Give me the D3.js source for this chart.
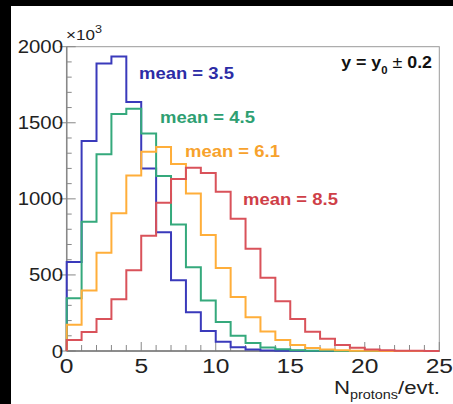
<!DOCTYPE html>
<html>
<head>
<meta charset="utf-8">
<script src="https://cdn.jsdelivr.net/npm/d3@7"></script>
<style>
  body { margin: 0; background: #fff; }
  svg { display: block; font-family: 'Liberation Sans', Arial, Helvetica, sans-serif; }
</style>
</head>
<body>
<div id="chart"></div>
<script>
// proton multiplicity per event, bin width 1, counts in units of 10^3
const nBins = 25
const blue = [585, 1380, 1890, 1935, 1636, 1200, 780, 465, 255, 132, 60, 25, 10, 4, 2, 1, 0, 0, 0, 0, 0, 0, 0, 0, 0]
const green = [347, 849, 1293, 1558, 1592, 1430, 1150, 832, 550, 332, 190, 100, 53, 23, 11, 5, 2, 1, 0, 0, 0, 0, 0, 0, 0]
const orange = [173, 397, 645, 906, 1153, 1310, 1341, 1229, 1035, 762, 545, 355, 222, 128, 72, 40, 20, 10, 5, 2, 1, 0, 0, 0, 0]
const red = [72, 125, 210, 340, 530, 757, 975, 1130, 1204, 1170, 1046, 870, 672, 482, 327, 210, 127, 80, 40, 22, 10, 5, 2, 1, 0]

const series = [
  { name: 'mean = 3.5', values: blue, line: '#3a3abb', text: '#2c2ca6', lx: 139, ly: 79 },
  { name: 'mean = 4.5', values: green, line: '#35a97c', text: '#2e9f72', lx: 160, ly: 123 },
  { name: 'mean = 6.1', values: orange, line: '#ffae3a', text: '#f7a22c', lx: 185, ly: 157 },
  { name: 'mean = 8.5', values: red, line: '#d9525a', text: '#cf3f48', lx: 243, ly: 205 }
]

const yMajor = [0, 500, 1000, 1500, 2000]
const xMajor = [0, 5, 10, 15, 20, 25]

const W = 453
const H = 404
const margin = { top: 46.7, right: 13.7, bottom: 53, left: 66.7 }

const svg = d3.select('#chart')
  .append('svg')
  .attr('width', W)
  .attr('height', H)

// black borders of the original screenshot
svg.append('rect').attr('x', 0).attr('y', 0).attr('width', W).attr('height', 6).attr('fill', '#000')
svg.append('rect').attr('x', 0).attr('y', 0).attr('width', 11).attr('height', H).attr('fill', '#000')

const x = d3.scaleLinear()
  .domain([0, nBins])
  .range([margin.left, W - margin.right])

const y = d3.scaleLinear()
  .domain([0, 2000])
  .range([H - margin.bottom, margin.top])

// helper: text slightly wider than the font, like the reference
function addText(px, py, anchor, sx) {
  return svg.append('text')
    .attr('transform', 'translate(' + px + ',' + py + ') scale(' + sx + ',1)')
    .attr('text-anchor', anchor)
}

// frame
svg.append('rect')
  .attr('x', x(0))
  .attr('y', y(2000))
  .attr('width', x(nBins) - x(0))
  .attr('height', y(0) - y(2000))
  .attr('fill', 'none')
  .attr('stroke', '#9a9a9a')
  .attr('stroke-width', 1)

// minor y ticks (inside)
svg.selectAll('.ytick-minor')
  .data(d3.range(0, 2001, 100))
  .enter()
  .append('line')
  .attr('x1', x(0))
  .attr('x2', d => yMajor.includes(d) ? x(0) + 9 : x(0) + 5)
  .attr('y1', d => y(d))
  .attr('y2', d => y(d))
  .attr('stroke', '#888')
  .attr('stroke-width', 1)

// major y ticks poke outside
svg.selectAll('.ytick-major')
  .data(yMajor)
  .enter()
  .append('line')
  .attr('x1', x(0) - 7)
  .attr('x2', x(0))
  .attr('y1', d => y(d))
  .attr('y2', d => y(d))
  .attr('stroke', '#888')
  .attr('stroke-width', 1)

// x ticks (inside, pointing up)
svg.selectAll('.xtick')
  .data(d3.range(0, nBins + 1))
  .enter()
  .append('line')
  .attr('x1', d => x(d))
  .attr('x2', d => x(d))
  .attr('y1', y(0))
  .attr('y2', d => xMajor.includes(d) ? y(0) - 9 : y(0) - 6)
  .attr('stroke', '#888')
  .attr('stroke-width', 1)

// axis lines
svg.append('line')
  .attr('x1', x(0)).attr('x2', x(0))
  .attr('y1', y(0)).attr('y2', y(2000))
  .attr('stroke', '#888').attr('stroke-width', 1.5)
svg.append('line')
  .attr('x1', x(0)).attr('x2', x(nBins))
  .attr('y1', y(0)).attr('y2', y(0))
  .attr('stroke', '#777').attr('stroke-width', 1.5)

// histograms
const line = d3.line()
  .x(d => x(d.n))
  .y(d => y(d.v))
  .curve(d3.curveStepAfter)

series.forEach(s => {
  const pts = [{ n: 0, v: 0 }]
  s.values.forEach((v, i) => pts.push({ n: i, v: v }))
  pts.push({ n: nBins, v: s.values[nBins - 1] })
  pts.push({ n: nBins, v: 0 })

  svg.append('path')
    .datum(pts)
    .attr('d', line)
    .attr('fill', 'none')
    .attr('stroke', s.line)
    .attr('stroke-width', 2)

  addText(s.lx, s.ly, 'start', 1.12)
    .attr('font-size', 16.5)
    .attr('font-weight', 'bold')
    .attr('fill', s.text)
    .text(s.name)
})

// y tick labels
yMajor.forEach(d => {
  addText(63, y(d) + 6.5, 'end', 1.1)
    .attr('font-size', 18.5)
    .attr('fill', '#222')
    .text(d)
})

// x tick labels
xMajor.forEach(d => {
  addText(x(d), 373, 'middle', 1.2)
    .attr('font-size', 20.5)
    .attr('fill', '#222')
    .text(d)
})

// exponent
const expo = addText(66, 40, 'start', 1.1)
  .attr('font-size', 15.5)
  .attr('fill', '#222')
expo.append('tspan').text('\u00d710')
expo.append('tspan').attr('font-size', 11.5).attr('dy', -7).text('3')

// cut label
const cut = addText(432, 68, 'end', 1.08)
  .attr('font-size', 16.5)
  .attr('font-weight', 'bold')
  .attr('fill', '#111')
cut.append('tspan').text('y = y')
cut.append('tspan').attr('font-size', 10.5).attr('dy', 6).text('0')
cut.append('tspan').attr('font-weight', 'normal').attr('dy', -6).text(' \u00b1 ')
cut.append('tspan').text('0.2')

// x axis title
const title = addText(440, 394, 'end', 1.2)
  .attr('font-size', 18.5)
  .attr('fill', '#222')
title.append('tspan').text('N')
title.append('tspan').attr('font-size', 12).attr('dy', 5).text('protons')
title.append('tspan').attr('dy', -5).text('/evt.')
</script>
</body>
</html>
